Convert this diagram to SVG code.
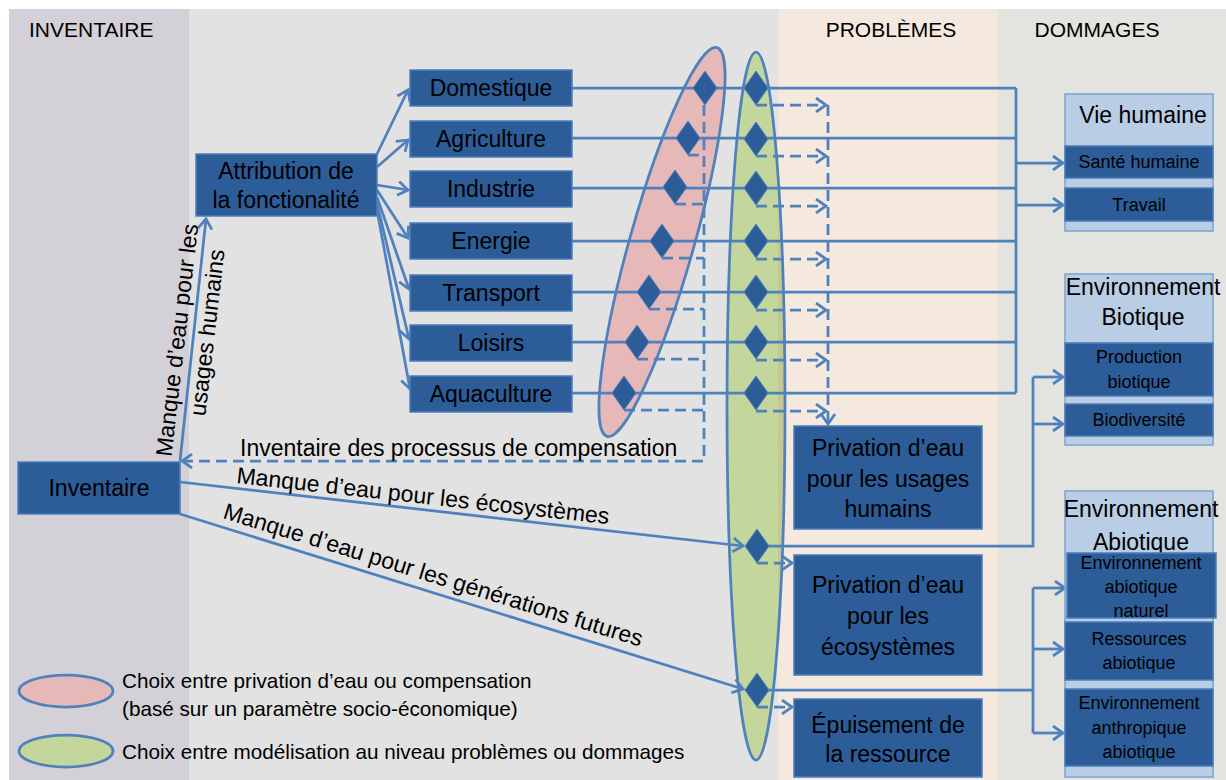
<svg xmlns="http://www.w3.org/2000/svg" width="1226" height="780" viewBox="0 0 1226 780">
  <defs>
    <style>
      text { font-family: "Liberation Sans", Arial, sans-serif; fill: #000; }
      .hdr { font-size: 21px; }
      .lbl { font-size: 23px; }
      .sub { font-size: 18px; }
      .leg { font-size: 20.7px; }
      .mid { text-anchor: middle; }
      .box { fill: #2c5d98; stroke: #4a7ebb; stroke-width: 1.5; }
      .grp { fill: #b9cde5; stroke: #7ba3d4; stroke-width: 1.5; }
      .con { fill: none; stroke: #4f81bd; stroke-width: 2.75; }
      .dash { stroke-dasharray: 11 6; }
      .dia { fill: #2c5d98; stroke: #4f81bd; stroke-width: 1; }
      .ell { stroke: #4f81bd; stroke-width: 2.75; }
    </style>
    <marker id="arr" markerUnits="userSpaceOnUse" markerWidth="14" markerHeight="16" viewBox="0 0 14 16" refX="12" refY="8" orient="auto">
      <path d="M2,1 L12,8 L2,15" fill="none" stroke="#4f81bd" stroke-width="2.75"/>
    </marker>
    <path id="diamond" d="M0,-17 L12,0 L0,17 L-12,0 Z"/>
    <clipPath id="greenClip">
      <ellipse cx="756" cy="406" rx="29" ry="354"/>
    </clipPath>
  </defs>

  <!-- column backgrounds -->
  <rect x="0" y="0" width="1226" height="780" fill="#ffffff"/>
  <rect x="9" y="9" width="180" height="771" fill="#d3d1d7"/>
  <rect x="189" y="9" width="589" height="771" fill="#e2e2e2"/>
  <rect x="778" y="9" width="220" height="771" fill="#f4e8df"/>
  <rect x="998" y="9" width="228" height="771" fill="#e3e3df"/>

  <text class="hdr" x="29" y="37">INVENTAIRE</text>
  <text class="hdr mid" x="891" y="37">PROBLÈMES</text>
  <text class="hdr mid" x="1097" y="37">DOMMAGES</text>

  <!-- choice ellipses -->
  <ellipse class="ell" cx="662" cy="242" rx="32" ry="202" fill="#e6b9b8" transform="rotate(15.8 662 242)"/>
  <ellipse cx="756" cy="406" rx="29" ry="354" fill="#c3d69b"/>
  <rect x="778" y="40" width="20" height="730" fill="#c6c98f" clip-path="url(#greenClip)"/>
  <ellipse class="ell" cx="756" cy="406" rx="29" ry="354" fill="none"/>

  <!-- connectors -->
  <g id="connectors">
    <!-- attribution to usages -->
    <path class="con" d="M376,156 L408,90" marker-end="url(#arr)"/>
    <path class="con" d="M377,167 L408,140" marker-end="url(#arr)"/>
    <path class="con" d="M377,185 L408,190" marker-end="url(#arr)"/>
    <path class="con" d="M377,190 L408,238" marker-end="url(#arr)"/>
    <path class="con" d="M377,197 L409,289" marker-end="url(#arr)"/>
    <path class="con" d="M377,203 L409,339" marker-end="url(#arr)"/>
    <path class="con" d="M377,210 L410,389" marker-end="url(#arr)"/>

    <!-- inventory flows -->
    <path class="con" d="M180,461 L206,219" marker-end="url(#arr)"/>
    <path class="con" d="M180,482 L743,546" marker-end="url(#arr)"/>
    <path class="con" d="M180,514 L743,689" marker-end="url(#arr)"/>

    <!-- usage rows through both choices to the human-life bus -->
    <path class="con" d="M572,88 L1016,88 M572,138 L1016,138 M572,188 L1016,188 M572,241 L1016,241 M572,292 L1016,292 M572,342 L1016,342 M572,393 L1016,393 M1016,88 L1016,393"/>
    <path class="con" d="M1016,163 L1063,163" marker-end="url(#arr)"/>
    <path class="con" d="M1016,205 L1063,205" marker-end="url(#arr)"/>

    <!-- ecosystem bus -->
    <path class="con" d="M757,546 L1033,546 L1033,377"/>
    <path class="con" d="M1033,377 L1063,377" marker-end="url(#arr)"/>
    <path class="con" d="M1033,424 L1063,424" marker-end="url(#arr)"/>

    <!-- resource bus -->
    <path class="con" d="M757,690 L1033,690 M1033,588 L1033,733"/>
    <path class="con" d="M1033,588 L1065,588" marker-end="url(#arr)"/>
    <path class="con" d="M1033,649 L1063,649" marker-end="url(#arr)"/>
    <path class="con" d="M1033,733 L1063,733" marker-end="url(#arr)"/>

    <!-- compensation inventory (dashed) -->
    <path class="con dash" d="M704,105 L704,461 L182,461" marker-end="url(#arr)"/>
    <path class="con dash" d="M688,155 L704,155 M675,204 L704,204 M662,258 L704,258 M649,309 L704,309 M637,359 L704,359 M624,410 L704,410"/>

    <!-- problem-level choices (dashed) -->
    <path class="con dash" d="M756,105 L826,105" marker-end="url(#arr)"/>
    <path class="con dash" d="M756,156 L826,156" marker-end="url(#arr)"/>
    <path class="con dash" d="M756,206 L826,206" marker-end="url(#arr)"/>
    <path class="con dash" d="M756,259 L826,259" marker-end="url(#arr)"/>
    <path class="con dash" d="M756,310 L826,310" marker-end="url(#arr)"/>
    <path class="con dash" d="M756,360 L826,360" marker-end="url(#arr)"/>
    <path class="con dash" d="M756,411 L826,411" marker-end="url(#arr)"/>
    <path class="con dash" d="M828,105 L828,424" marker-end="url(#arr)"/>
    <path class="con dash" d="M757,563 L792,563" marker-end="url(#arr)"/>
    <path class="con dash" d="M757,707 L792,707" marker-end="url(#arr)"/>
  </g>

  <!-- decision diamonds -->
  <g id="diamonds">
    <use href="#diamond" class="dia" x="705" y="88"/>
    <use href="#diamond" class="dia" x="688" y="138"/>
    <use href="#diamond" class="dia" x="675" y="187"/>
    <use href="#diamond" class="dia" x="662" y="241"/>
    <use href="#diamond" class="dia" x="649" y="292"/>
    <use href="#diamond" class="dia" x="637" y="342"/>
    <use href="#diamond" class="dia" x="624" y="393"/>
    <use href="#diamond" class="dia" x="756" y="88"/>
    <use href="#diamond" class="dia" x="756" y="139"/>
    <use href="#diamond" class="dia" x="756" y="188"/>
    <use href="#diamond" class="dia" x="756" y="241"/>
    <use href="#diamond" class="dia" x="756" y="292"/>
    <use href="#diamond" class="dia" x="756" y="342"/>
    <use href="#diamond" class="dia" x="756" y="393"/>
    <use href="#diamond" class="dia" x="757" y="546"/>
    <use href="#diamond" class="dia" x="757" y="690"/>
  </g>

  <!-- inventory -->
  <g id="inventaire">
    <rect class="box" x="18" y="462" width="162" height="52"/>
    <text class="lbl mid" x="99" y="496">Inventaire</text>
  </g>
  <g id="attribution">
    <rect class="box" x="196" y="154" width="181" height="62"/>
    <text class="lbl mid" x="286" y="179">Attribution de</text>
    <text class="lbl mid" x="286" y="208">la fonctionalité</text>
  </g>

  <!-- water uses -->
  <g id="domestique"><rect class="box" x="410" y="70" width="162" height="36"/><text class="lbl mid" x="491" y="96">Domestique</text></g>
  <g id="agriculture"><rect class="box" x="410" y="121" width="162" height="36"/><text class="lbl mid" x="491" y="147">Agriculture</text></g>
  <g id="industrie"><rect class="box" x="410" y="171" width="162" height="36"/><text class="lbl mid" x="491" y="197">Industrie</text></g>
  <g id="energie"><rect class="box" x="410" y="223" width="162" height="36"/><text class="lbl mid" x="491" y="249">Energie</text></g>
  <g id="transport"><rect class="box" x="410" y="275" width="162" height="36"/><text class="lbl mid" x="491" y="301">Transport</text></g>
  <g id="loisirs"><rect class="box" x="410" y="325" width="162" height="36"/><text class="lbl mid" x="491" y="351">Loisirs</text></g>
  <g id="aquaculture"><rect class="box" x="410" y="376" width="162" height="36"/><text class="lbl mid" x="491" y="402">Aquaculture</text></g>

  <!-- problems -->
  <g id="privation-humains">
    <rect class="box" x="794" y="426" width="188" height="103"/>
    <text class="lbl mid" x="888" y="456">Privation d’eau</text>
    <text class="lbl mid" x="888" y="487">pour les usages</text>
    <text class="lbl mid" x="888" y="517">humains</text>
  </g>
  <g id="privation-ecosystemes">
    <rect class="box" x="794" y="555" width="188" height="120"/>
    <text class="lbl mid" x="888" y="593">Privation d’eau</text>
    <text class="lbl mid" x="888" y="624">pour les</text>
    <text class="lbl mid" x="888" y="655">écosystèmes</text>
  </g>
  <g id="epuisement">
    <rect class="box" x="794" y="699" width="188" height="78"/>
    <text class="lbl mid" x="888" y="733">Épuisement de</text>
    <text class="lbl mid" x="888" y="762">la ressource</text>
  </g>

  <!-- damages -->
  <g id="vie-humaine">
    <rect class="grp" x="1065" y="94" width="148" height="137"/>
    <text class="lbl mid" x="1143" y="123">Vie humaine</text>
    <rect class="box" x="1065" y="146" width="148" height="32"/>
    <text class="sub mid" x="1139" y="168">Santé humaine</text>
    <rect class="box" x="1065" y="188" width="148" height="33"/>
    <text class="sub mid" x="1139" y="211">Travail</text>
  </g>
  <g id="env-biotique">
    <rect class="grp" x="1065" y="274" width="148" height="171"/>
    <text class="lbl mid" x="1143" y="295">Environnement</text>
    <text class="lbl mid" x="1143" y="325">Biotique</text>
    <rect class="box" x="1065" y="343" width="148" height="53"/>
    <text class="sub mid" x="1139" y="363">Production</text>
    <text class="sub mid" x="1139" y="388">biotique</text>
    <rect class="box" x="1065" y="404" width="148" height="32"/>
    <text class="sub mid" x="1139" y="426">Biodiversité</text>
  </g>
  <g id="env-abiotique">
    <rect class="grp" x="1065" y="491" width="148" height="286"/>
    <text class="lbl mid" x="1141" y="517">Environnement</text>
    <text class="lbl mid" x="1141" y="550">Abiotique</text>
    <rect class="box" x="1067" y="553" width="149" height="65"/>
    <text class="sub mid" x="1141" y="569">Environnement</text>
    <text class="sub mid" x="1141" y="593">abiotique</text>
    <text class="sub mid" x="1141" y="617">naturel</text>
    <rect class="box" x="1065" y="622" width="148" height="58"/>
    <text class="sub mid" x="1139" y="645">Ressources</text>
    <text class="sub mid" x="1139" y="669">abiotique</text>
    <rect class="box" x="1065" y="689" width="148" height="77"/>
    <text class="sub mid" x="1139" y="709">Environnement</text>
    <text class="sub mid" x="1139" y="734">anthropique</text>
    <text class="sub mid" x="1139" y="758">abiotique</text>
  </g>

  <!-- connector labels -->
  <g transform="translate(193,340) rotate(-83.4)">
    <text class="lbl mid" x="-2" y="-8">Manque d’eau pour les</text>
    <text class="lbl mid" x="9" y="21">usages humains</text>
  </g>
  <text class="lbl" x="240" y="456">Inventaire des processus de compensation</text>
  <text class="lbl" transform="translate(236,483) rotate(6.3)">Manque d’eau pour les écosystèmes</text>
  <text class="lbl" transform="translate(222,518) rotate(17.1)">Manque d’eau pour les générations futures</text>

  <!-- legend -->
  <g id="legend">
    <ellipse class="ell" cx="66" cy="691" rx="47" ry="16" fill="#e6b9b8"/>
    <ellipse class="ell" cx="66" cy="751" rx="47" ry="16" fill="#c3d69b"/>
    <text class="leg" x="122" y="688">Choix entre privation d’eau ou compensation</text>
    <text class="leg" x="122" y="716">(basé sur un paramètre socio-économique)</text>
    <text class="leg" x="122" y="759">Choix entre modélisation au niveau problèmes ou dommages</text>
  </g>
</svg>
